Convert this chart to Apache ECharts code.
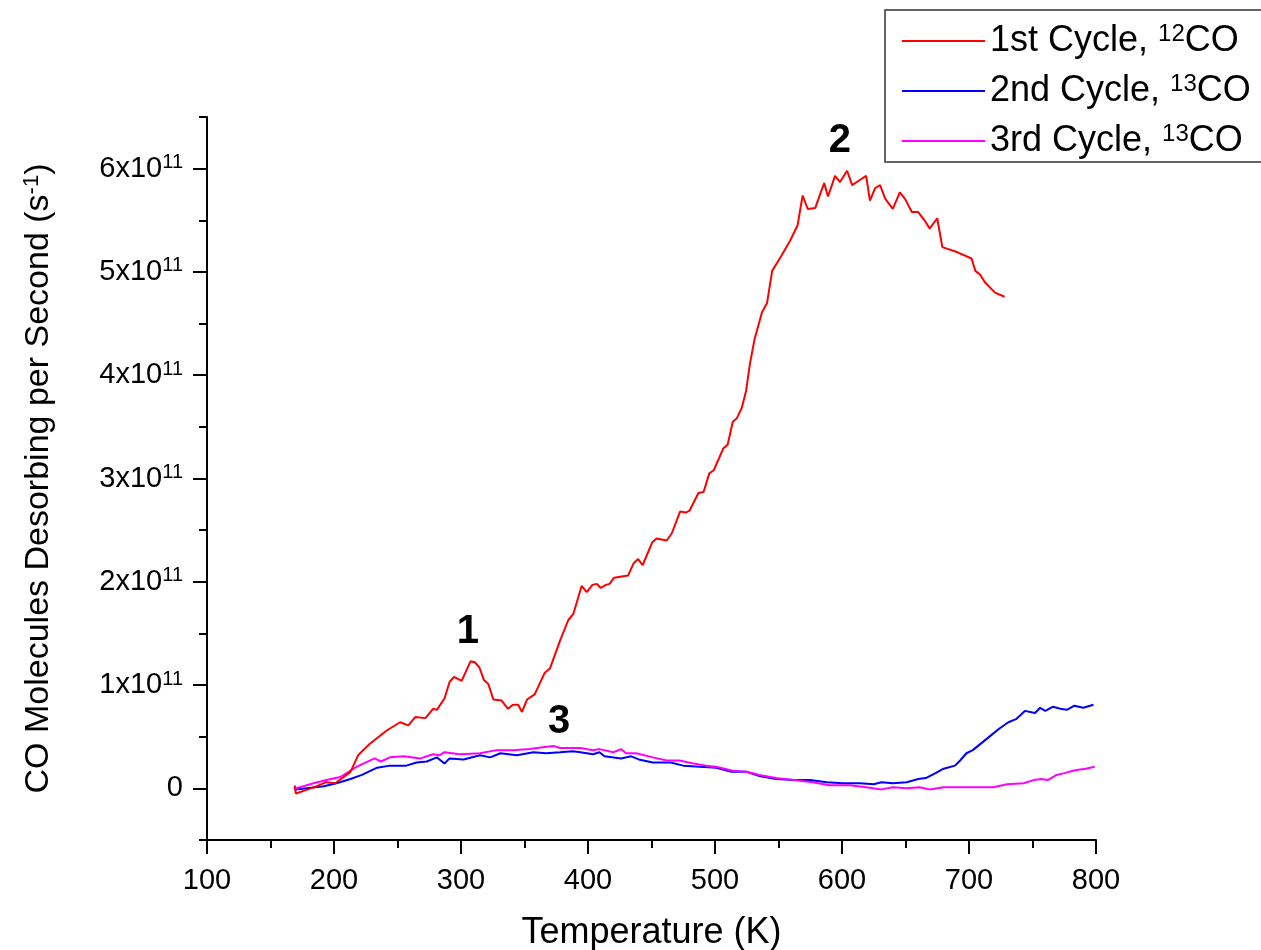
<!DOCTYPE html>
<html>
<head>
<meta charset="utf-8">
<script src="https://cdn.jsdelivr.net/npm/echarts@6/dist/echarts.min.js"></script>
<style>html,body{margin:0;padding:0;background:#fff}#c{width:1261px;height:950px}</style>
</head>
<body>
<div id="c"></div>
<script>
// Values in units of 1x10^11 molecules per second; temperatures in K
const cycle1 = [[169,0.02],[170,-0.05],[184,0.01],[194,0.06],[201,0.05],[213,0.16],[219,0.32],[228,0.43],[241.5,0.56],[252,0.64],[258.5,0.61],[264,0.69],[272,0.68],[278,0.77],[281,0.76],[287,0.87],[291,1.03],[294.5,1.08],[300.5,1.04],[307.5,1.23],[311,1.22],[314.5,1.17],[318,1.05],[321.5,1.01],[325.5,0.86],[332,0.85],[337,0.77],[341,0.81],[345,0.81],[348,0.74],[352,0.86],[358,0.91],[366,1.12],[370,1.16],[378,1.43],[384.5,1.63],[388.5,1.69],[395,1.96],[399,1.90],[403.5,1.97],[407,1.98],[410,1.94],[414,1.97],[417,1.98],[420.5,2.04],[431.5,2.06],[436,2.18],[439.5,2.22],[443,2.16],[450.5,2.38],[454,2.42],[462,2.40],[466,2.47],[472.5,2.68],[477,2.67],[480,2.69],[487,2.86],[491,2.87],[495.5,3.05],[499,3.08],[506.5,3.29],[510,3.33],[514,3.55],[517,3.58],[521,3.68],[524.5,3.85],[527.5,4.11],[531,4.34],[537,4.61],[541,4.70],[545,5.01],[551,5.13],[559,5.30],[565,5.45],[569,5.74],[573,5.61],[579,5.62],[583,5.76],[586,5.86],[589,5.73],[594.5,5.93],[598.5,5.87],[604,5.98],[608,5.84],[614,5.89],[619,5.93],[622,5.69],[626,5.81],[630,5.84],[634,5.71],[640,5.61],[645.5,5.77],[649.5,5.71],[655,5.58],[660,5.58],[665,5.50],[669,5.42],[675,5.52],[679,5.24],[691,5.19],[702,5.13],[705,5.01],[709,4.97],[712.5,4.90],[720.5,4.80],[728,4.76]];
const cycle2 = [[169,0.02],[170,-0.01],[192,0.02],[202,0.05],[213,0.09],[222,0.13],[234,0.20],[244,0.22],[257,0.22],[265,0.25],[273,0.26],[281,0.30],[287,0.24],[291,0.29],[302,0.28],[315,0.32],[323,0.30],[331,0.34],[344,0.32],[357,0.35],[367,0.34],[378,0.35],[388,0.36],[394,0.35],[404,0.33],[409,0.35],[413,0.31],[426,0.29],[434,0.31],[440,0.28],[451,0.25],[465,0.25],[475,0.22],[488,0.21],[501,0.20],[513,0.16],[525,0.16],[535,0.12],[548,0.09],[562,0.08],[575,0.08],[588,0.06],[601,0.05],[614,0.05],[625,0.04],[631,0.06],[640,0.05],[651,0.06],[660,0.09],[666,0.10],[674,0.15],[680,0.19],[689,0.22],[693,0.27],[698,0.34],[703,0.37],[711,0.45],[719,0.53],[724,0.58],[731,0.64],[737,0.67],[744,0.75],[752,0.73],[756,0.78],[760,0.75],[766,0.79],[772,0.77],[777,0.76],[783,0.80],[790,0.78],[798,0.81]];
const cycle3 = [[169,0.03],[170,0.0],[184,0.05],[194,0.08],[205,0.11],[218,0.21],[232,0.29],[237,0.26],[244,0.30],[255,0.31],[268,0.29],[278,0.33],[283,0.32],[287,0.35],[299,0.33],[315,0.34],[328,0.37],[341,0.37],[354,0.38],[366,0.40],[373,0.41],[378,0.39],[394,0.39],[404,0.37],[409,0.38],[420,0.35],[426,0.38],[430,0.34],[438,0.34],[451,0.30],[462,0.27],[472,0.27],[483,0.24],[493,0.22],[501,0.21],[514,0.17],[525,0.16],[535,0.13],[548,0.10],[562,0.08],[577,0.06],[590,0.03],[606,0.03],[619,0.01],[631,-0.01],[640,0.01],[651,0.00],[661,0.01],[669,-0.01],[680,0.01],[693,0.01],[706,0.01],[719,0.01],[730,0.04],[743,0.05],[751,0.08],[757,0.09],[762,0.08],[769,0.13],[776,0.15],[782,0.17],[786,0.18],[792,0.19],[799,0.21]];
const seriesNames = ['1st Cycle, 12CO', '2nd Cycle, 13CO', '3rd Cycle, 13CO'];
const seriesColors = ['#ff0000', '#0000ff', '#ff00ff'];
const annotations = [[305.5, 1.51, '1'], [598.4, 6.27, '2'], [377.2, 0.64, '3']];
const xTicks = [100, 200, 300, 400, 500, 600, 700, 800];
const yMajor = [0, 1, 2, 3, 4, 5, 6];
const yMinor = [-0.5, 0.5, 1.5, 2.5, 3.5, 4.5, 5.5, 6.5];

const FONT = '"Liberation Sans", Arial, sans-serif';
const chart = echarts.init(document.getElementById('c'), null, {renderer: 'canvas'});

function legendFmt(name) {
  const m = name.match(/^(.*, )(\d+)(CO)$/);
  return m ? '{t|' + m[1] + '}{s|' + m[2] + '}{t|' + m[3] + '}' : name;
}

const lineSeries = [cycle1, cycle2, cycle3].map((d, i) => ({
  name: seriesNames[i], type: 'line', data: d, symbol: 'none', showSymbol: false,
  lineStyle: {color: seriesColors[i], width: 2}, itemStyle: {color: seriesColors[i]},
  animation: false, z: i === 0 ? 4 : (i === 2 ? 3 : 2)
}));

const option = {
  animation: false,
  backgroundColor: '#fff',
  grid: {left: 207, right: 165, top: 117, bottom: 110, containLabel: false, outerBoundsMode: 'none'},
  legend: {
    orient: 'vertical', left: 885, top: 10,
    padding: [12, 20, 2, 17],
    borderColor: '#333', borderWidth: 1.5, backgroundColor: '#fff',
    icon: 'rect', itemWidth: 83, itemHeight: 2, itemGap: 12,
    data: seriesNames,
    formatter: legendFmt,
    textStyle: {
      fontFamily: FONT, fontSize: 36, color: '#000', lineHeight: 38,
      rich: {
        t: {fontFamily: FONT, fontSize: 36, color: '#000', lineHeight: 38},
        s: {fontFamily: FONT, fontSize: 24, color: '#000', verticalAlign: 'top', lineHeight: 24, padding: [0, 0, 14, 0]}
      }
    }
  },
  xAxis: {
    type: 'value', min: 100, max: 800, interval: 100,
    axisLine: {show: true, onZero: false, lineStyle: {color: '#000', width: 2}},
    axisTick: {show: true, inside: false, length: 14, lineStyle: {color: '#000', width: 2}},
    minorTick: {show: true, splitNumber: 2, length: 8, lineStyle: {color: '#000', width: 2}},
    splitLine: {show: false},
    axisLabel: {fontFamily: FONT, fontSize: 29, color: '#000', margin: 26,
      customValues: xTicks, formatter: v => String(v)},
    name: 'Temperature (K)', nameLocation: 'middle', nameGap: 75,
    nameTextStyle: {fontFamily: FONT, fontSize: 36, color: '#000'}
  },
  yAxis: [
    {
      type: 'value', min: -0.5, max: 6.5, interval: 0.5,
      axisLine: {show: true, onZero: false, lineStyle: {color: '#000', width: 2}},
      axisTick: {show: true, inside: false, length: 14, customValues: yMajor, lineStyle: {color: '#000', width: 2}},
      splitLine: {show: false},
      axisLabel: {
        customValues: yMajor, margin: 24, color: '#000',
        fontFamily: FONT, fontSize: 29,
        formatter: v => v === 0 ? '{b|0}' : '{b|' + v + 'x10}{s|11}',
        rich: {
          b: {fontFamily: FONT, fontSize: 29, color: '#000'},
          s: {fontFamily: FONT, fontSize: 20, color: '#000', verticalAlign: 'top', padding: [0, 0, 12, 0]}
        }
      },
      name: '{t|CO Molecules Desorbing per Second (s}{s|-1}{t|)}', nameLocation: 'middle', nameGap: 151, nameRotate: 90,
      nameTextStyle: {fontFamily: FONT, fontSize: 34, color: '#000',
        rich: {
          t: {fontFamily: FONT, fontSize: 34, color: '#000'},
          s: {fontFamily: FONT, fontSize: 22, color: '#000', verticalAlign: 'top', padding: [0, 0, 13, 0]}
        }}
    },
    {
      type: 'value', min: -0.5, max: 6.5, interval: 0.5, position: 'left',
      axisLine: {show: false},
      axisTick: {show: true, inside: false, length: 8, customValues: yMinor, lineStyle: {color: '#000', width: 2}},
      axisLabel: {show: false},
      splitLine: {show: false}
    }
  ],
  series: lineSeries.concat([{
    type: 'scatter', data: annotations, symbol: 'circle', symbolSize: 0,
    itemStyle: {color: '#000', opacity: 1},
    label: {show: true, position: 'inside', formatter: p => p.data[2], opacity: 1,
      fontFamily: FONT, fontSize: 40, fontWeight: 'bold', color: '#000'},
    emphasis: {disabled: true},
    silent: true, z: 5
  }])
};
chart.setOption(option);
</script>
</body>
</html>
